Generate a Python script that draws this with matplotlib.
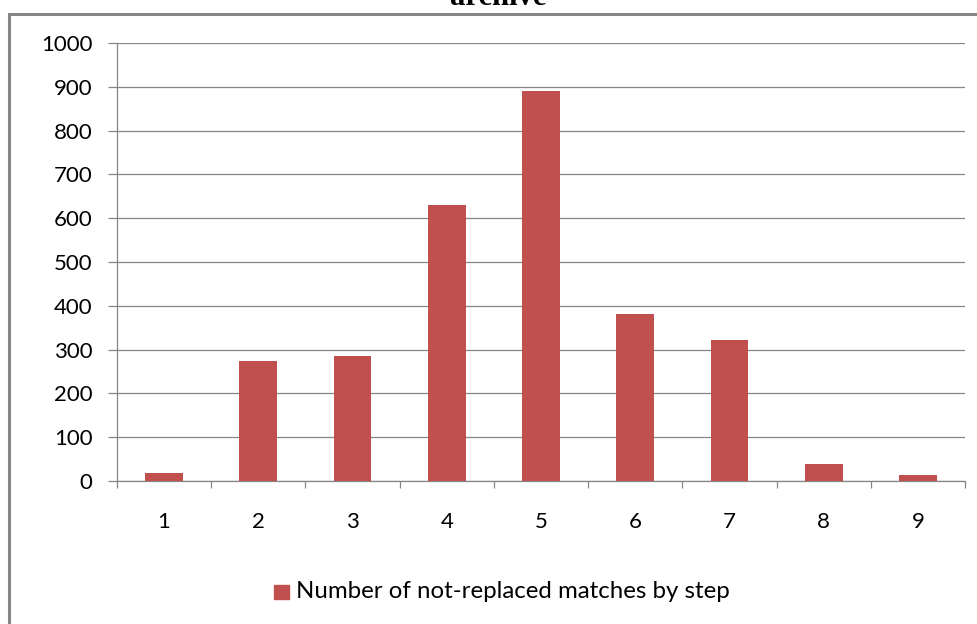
import matplotlib.pyplot as plt
from matplotlib.patches import Rectangle

steps = ['1', '2', '3', '4', '5', '6', '7', '8', '9']
counts = [18, 274, 285, 630, 890, 381, 322, 39, 14]
legend_label = 'Number of not-replaced matches by step'
title = 'archive'

plt.rcParams['font.family'] = ['Lato', 'DejaVu Sans']

fig = plt.figure(figsize=(9.77, 6.24), dpi=100)
ax = fig.add_axes([117/977, 1-481/624, (965-117)/977, (481-43)/624])

grey = '#868686'
red = '#c0504d'

x = range(len(steps))
ax.bar(x, counts, width=0.4, color=red, zorder=3)
ax.set_xlim(-0.5, len(steps)-0.5)
ax.set_ylim(0, 1000)
ax.set_yticks(range(0, 1001, 100))
ax.set_xticks(list(x))
ax.set_xticklabels(steps)
ax.set_xticks([i-0.5 for i in range(len(steps)+1)], minor=True)
ax.grid(axis='y', color=grey, linewidth=0.9, zorder=0)
for s in ['top', 'right']:
    ax.spines[s].set_visible(False)
for s in ['left', 'bottom']:
    ax.spines[s].set_color(grey)
    ax.spines[s].set_linewidth(0.9)
ax.tick_params(axis='y', length=6.5, color=grey, width=0.9, labelsize=16, pad=11)
ax.tick_params(axis='x', which='major', length=0, labelsize=16, pad=22)
ax.tick_params(axis='x', which='minor', length=5, color=grey, width=0.9)

# outer chart frame
fig.patches.append(Rectangle((9/977, -0.05), 1.2, 1-14/624+0.05,
                             transform=fig.transFigure, fill=False,
                             edgecolor=grey, linewidth=2.2))

# title sits mostly above the image, as in the original
fig.text(498/977, 1-5/624, title, ha='center', va='baseline',
         fontsize=22, fontweight='bold', family='Liberation Serif')

# legend
fig.patches.append(Rectangle((274/977, 1-599/624), 15/977, 14/624,
                             transform=fig.transFigure, color=red))
fig.text(296/977, 1-592/624, legend_label, ha='left', va='center', fontsize=17.3)

fig.savefig('out.png', dpi=100)
